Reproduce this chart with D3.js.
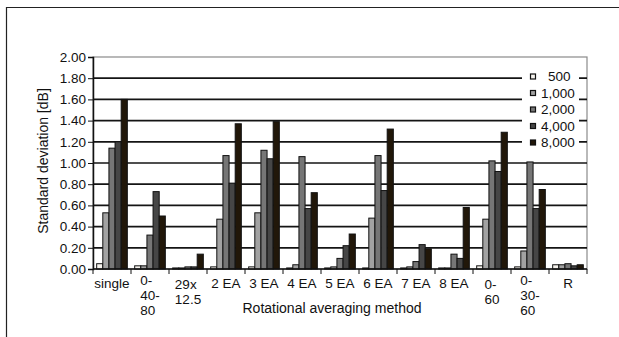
<!doctype html>
<html lang="en">
<head>
<meta charset="utf-8" />
<title>Standard deviation by rotational averaging method</title>
<script src="https://cdn.jsdelivr.net/npm/d3@7"></script>
<style>
  body { margin: 0; background: #fff; }
  text { font-family: "Liberation Sans", Arial, sans-serif; fill: #111; }
</style>
</head>
<body>
<script>
// categories (x axis), "\n" = line break
var methods = ["single", "0-\n40-\n80", "29x\n12.5", "2 EA", "3 EA", "4 EA", "5 EA",
               "6 EA", "7 EA", "8 EA", "0-\n60", "0-\n30-\n60", "R"];
var freqs = ["500", "1,000", "2,000", "4,000", "8,000"];
// one array per frequency, values in dB
var s500  = [0.05, 0.03, 0.01, 0.02, 0.02, 0.01, 0.01, 0.01, 0.01, 0.01, 0.03, 0.02, 0.04];
var s1000 = [0.53, 0.03, 0.01, 0.47, 0.53, 0.04, 0.02, 0.48, 0.02, 0.01, 0.47, 0.17, 0.04];
var s2000 = [1.14, 0.32, 0.02, 1.07, 1.12, 1.06, 0.10, 1.07, 0.07, 0.14, 1.02, 1.01, 0.05];
var s4000 = [1.20, 0.73, 0.02, 0.81, 1.04, 0.57, 0.22, 0.74, 0.23, 0.10, 0.92, 0.57, 0.03];
var s8000 = [1.60, 0.50, 0.14, 1.37, 1.39, 0.72, 0.33, 1.32, 0.19, 0.58, 1.29, 0.75, 0.04];
var yTicks = [0, 0.2, 0.4, 0.6, 0.8, 1.0, 1.2, 1.4, 1.6, 1.8, 2.0];

var series = [s500, s1000, s2000, s4000, s8000];
var colors = ["#f6f3ee", "#a2a2a2", "#767676", "#464646", "#211709"];

var w = 619, h = 337;
var pLeft = 93, pRight = 587, pTop = 57, pBottom = 269;

var svg = d3.select("body").append("svg").attr("width", w).attr("height", h);

// outer chart frame (cut off at right and bottom)
svg.append("path").attr("d", "M6.5," + h + "V7.5H" + w)
  .attr("fill", "none").attr("stroke", "#222").attr("stroke-width", 1.2);

var x = d3.scaleBand().domain(d3.range(methods.length)).range([pLeft, pRight]);
var xs = d3.scaleBand().domain(d3.range(freqs.length))
  .range([0, x.bandwidth()]).paddingOuter(0.6).paddingInner(0);
var y = d3.scaleLinear().domain([0, 2]).range([pBottom, pTop]);

// plot frame (top / right grey)
svg.append("rect").attr("x", pLeft).attr("y", pTop)
  .attr("width", pRight - pLeft).attr("height", pBottom - pTop)
  .attr("fill", "none").attr("stroke", "#8a8a8a").attr("stroke-width", 1.2);

// gridlines
svg.append("g").selectAll("line").data(yTicks.filter(function(d) { return d > 0 && d < 2; }))
  .enter().append("line")
  .attr("x1", pLeft).attr("x2", pRight)
  .attr("y1", function(d) { return y(d); }).attr("y2", function(d) { return y(d); })
  .attr("stroke", "#141414").attr("stroke-width", 1.7);

// bars
var groups = svg.append("g").selectAll("g").data(series).enter().append("g")
  .attr("fill", function(d, i) { return colors[i]; });
groups.each(function(vals, si) {
  d3.select(this).selectAll("rect").data(vals).enter().append("rect")
    .attr("x", function(d, i) { return x(i) + xs(si); })
    .attr("width", xs.bandwidth())
    .attr("y", function(d) { return y(d); })
    .attr("height", function(d) { return y(0) - y(d); })
    .attr("stroke", "#111").attr("stroke-width", 1);
});

// y axis
var yAxis = svg.append("g").attr("transform", "translate(" + pLeft + ",0)")
  .call(d3.axisLeft(y).tickValues(yTicks).tickFormat(d3.format(".2f")).tickSize(5).tickPadding(2));
yAxis.select(".domain").attr("stroke", "#111").attr("stroke-width", 1.5);
yAxis.selectAll(".tick line").attr("stroke", "#111");
yAxis.selectAll("text").attr("font-size", 13.5).attr("fill", "#111")
  .style("font-family", "'Liberation Sans', Arial, sans-serif");

// x axis line and ticks at category boundaries
var xAxis = svg.append("g").attr("transform", "translate(0," + pBottom + ")");
xAxis.append("line").attr("x1", pLeft).attr("x2", pRight)
  .attr("stroke", "#111").attr("stroke-width", 1.5);
xAxis.selectAll(".bt").data(d3.range(methods.length + 1)).enter().append("line")
  .attr("x1", function(i) { return pLeft + i * x.step(); })
  .attr("x2", function(i) { return pLeft + i * x.step(); })
  .attr("y1", 0).attr("y2", 5).attr("stroke", "#111");

// category labels, multiline left-aligned inside a centred block
methods.forEach(function(m, i) {
  var lines = m.split("\n");
  var t = svg.append("text").attr("font-size", 13.5);
  var y0 = lines.length === 3 ? 285 : (lines.length === 2 ? 289 : 288);
  lines.forEach(function(l, j) {
    t.append("tspan").attr("y", y0 + j * 15).text(l);
  });
  var widths = [];
  t.selectAll("tspan").each(function() { widths.push(this.getComputedTextLength()); });
  var bw = d3.max(widths);
  t.selectAll("tspan").attr("x", x(i) + x.bandwidth() / 2 - bw / 2);
});

// axis titles
svg.append("text").attr("x", 332).attr("y", 313).attr("text-anchor", "middle")
  .attr("font-size", 14).text("Rotational averaging method");
svg.append("text").attr("transform", "translate(48,161) rotate(-90)")
  .attr("text-anchor", "middle").attr("font-size", 14).text("Standard deviation [dB]");

// legend
var lg = svg.append("g");
lg.append("rect").attr("x", 522).attr("y", 66).attr("width", 57).attr("height", 86).attr("fill", "#fff");
freqs.forEach(function(f, i) {
  var cy = 76.5 + i * 16.5;
  lg.append("rect").attr("x", 530.5).attr("y", cy - 2.5).attr("width", 5).attr("height", 5)
    .attr("fill", colors[i]).attr("stroke", "#111").attr("stroke-width", 1.2);
  lg.append("text").attr("x", i === 0 ? 548 : 541).attr("y", cy + 4.5)
    .attr("font-size", 13.5).text(f);
});
</script>
</body>
</html>
